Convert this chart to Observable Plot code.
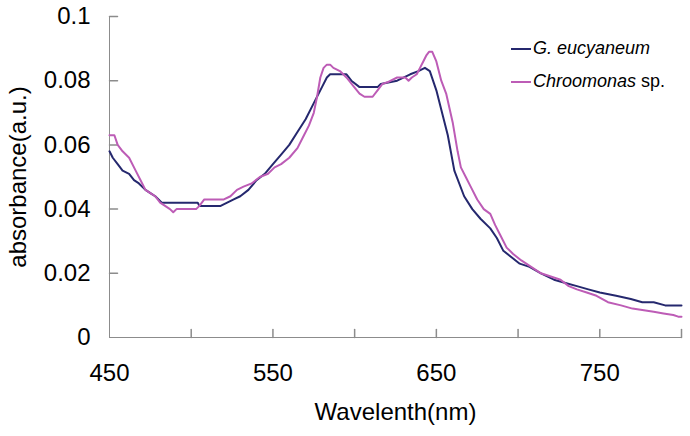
<!DOCTYPE html>
<html>
<head>
<meta charset="utf-8">
<script src="https://cdn.jsdelivr.net/npm/d3@7"></script>
<script src="https://cdn.jsdelivr.net/npm/@observablehq/plot@0.6"></script>
<style>
  html, body { margin: 0; padding: 0; background: #fff; }
  #wrap { position: relative; width: 690px; height: 436px; font-family: "Liberation Sans", Arial, sans-serif; }
  #legend { position: absolute; left: 511px; top: 32px; font-size: 18px; color: #000; }
  #legend .row { display: flex; align-items: center; height: 33px; }
  #legend .sw { width: 20px; height: 2px; margin-right: 2px; }
</style>
</head>
<body>
<div id="wrap"><div id="legend"></div></div>
<script>
// Series: G. eucyaneum
const gWave = [450,452,455,458,462,465,468,472,475,478,482,504,505,518,522,526,530,535,540,545,550,555,560,565,570,575,580,583,585,595,598,603,614,616,626,634,639,643,646,650,654,657,661,667,672,677,683,687,691,696,701,707,714,722,729,736,743,750,760,769,776,783,790,800];
const gAbs = [0.058,0.056,0.054,0.052,0.051,0.049,0.048,0.046,0.045,0.044,0.042,0.042,0.041,0.041,0.042,0.043,0.044,0.046,0.049,0.051,0.054,0.057,0.060,0.064,0.068,0.073,0.078,0.081,0.082,0.082,0.080,0.078,0.078,0.079,0.080,0.082,0.083,0.084,0.083,0.077,0.069,0.063,0.052,0.044,0.040,0.037,0.034,0.031,0.027,0.025,0.023,0.022,0.020,0.018,0.017,0.016,0.015,0.014,0.013,0.012,0.011,0.011,0.010,0.010];
// Series: Chroomonas sp.
const cWave = [450,453,455,458,462,466,469,472,475,478,481,484,487,489,491,503,505,508,520,524,528,532,537,542,547,551,555,560,565,569,572,575,577,579,581,583,585,587,591,595,599,603,606,611,614,617,620,626,631,633,635,638,640,642,644,645.5,647.5,650,653,656,660,663,665,668,671,675,679,683,686,689,693,697,702,708,714,720,726,731,736,742,748,755,763,770,777,783,789,795,798,800];
const cAbs = [0.063,0.063,0.060,0.058,0.056,0.052,0.049,0.046,0.045,0.044,0.042,0.041,0.040,0.039,0.040,0.040,0.041,0.043,0.043,0.044,0.046,0.047,0.048,0.050,0.051,0.053,0.054,0.056,0.059,0.063,0.066,0.070,0.075,0.081,0.084,0.085,0.085,0.084,0.083,0.081,0.0785,0.076,0.075,0.075,0.077,0.079,0.0795,0.081,0.081,0.080,0.081,0.082,0.084,0.086,0.088,0.089,0.089,0.086,0.080,0.076,0.067,0.058,0.053,0.050,0.047,0.043,0.040,0.0385,0.035,0.032,0.028,0.026,0.024,0.022,0.020,0.019,0.018,0.016,0.015,0.014,0.013,0.011,0.010,0.009,0.0085,0.008,0.0075,0.007,0.0065,0.0065];

const seriesNames = ["G. eucyaneum", "Chroomonas sp."];
const seriesColors = ["#25286e", "#bd5cb6"];
const xDomain = [450, 800];
const yDomain = [0, 0.1];
const xTicks = [450, 500, 550, 600, 650, 700, 750, 800];
const xTickLabels = [450, 550, 650, 750];
const yTicks = [0, 0.02, 0.04, 0.06, 0.08, 0.1];
const xTitle = "Wavelenth(nm)";
const yTitle = "absorbance(a.u.)";

const data = [
  ...gWave.map((w, i) => ({wave: w, abs: gAbs[i], series: seriesNames[0]})),
  ...cWave.map((w, i) => ({wave: w, abs: cAbs[i], series: seriesNames[1]}))
];

const tickShape = { draw(ctx, l) { ctx.moveTo(0, 0); ctx.lineTo(0, -l); } };
const axisGray = "#8c8c8c";

const chart = Plot.plot({
  width: 690,
  height: 436,
  marginLeft: 109,
  marginRight: 9,
  marginTop: 16,
  marginBottom: 99,
  style: { fontFamily: "'Liberation Sans', Arial, sans-serif", background: "#fff", color: "#000" },
  x: { domain: xDomain },
  y: { domain: yDomain },
  color: { domain: seriesNames, range: seriesColors },
  marks: [
    Plot.ruleX([xDomain[0]], { stroke: axisGray, strokeWidth: 1 }),
    Plot.ruleY([yDomain[0]], { stroke: axisGray, strokeWidth: 1 }),
    Plot.vector(xTicks.slice(1), { x: d => d, y: yDomain[0], length: 8, rotate: 0, anchor: "start", shape: tickShape, stroke: axisGray }),
    Plot.vector(yTicks.slice(1), { x: xDomain[0], y: d => d, length: 8, rotate: 90, anchor: "start", shape: tickShape, stroke: axisGray }),
    Plot.axisX({ ticks: xTickLabels, tickSize: 0, tickPadding: 26, fontSize: 24, label: null, tickFormat: d => String(d) }),
    Plot.axisY({ ticks: yTicks, tickSize: 0, tickPadding: 19, fontSize: 24, label: null, tickFormat: d => String(d) }),
    Plot.line(data, { x: "wave", y: "abs", stroke: "series", strokeWidth: 2, curve: "linear" }),
    Plot.text([xTitle], { frameAnchor: "bottom", lineAnchor: "middle", textAnchor: "middle", dy: 75, fontSize: 24, fill: "#000" }),
    Plot.text([yTitle], { frameAnchor: "left", textAnchor: "middle", lineAnchor: "middle", dx: -91, rotate: -90, fontSize: 24, fill: "#000" })
  ]
});

const wrap = document.getElementById("wrap");
wrap.insertBefore(chart, wrap.firstChild);

const legend = document.getElementById("legend");
const labelHtml = [
  '<i>G. eucyaneum</i>',
  '<i>Chroomonas</i> sp.'
];
seriesNames.forEach((name, i) => {
  const row = document.createElement("div");
  row.className = "row";
  row.innerHTML = `<span class="sw" style="background:${seriesColors[i]}"></span><span>${labelHtml[i]}</span>`;
  legend.appendChild(row);
});
</script>
</body>
</html>
